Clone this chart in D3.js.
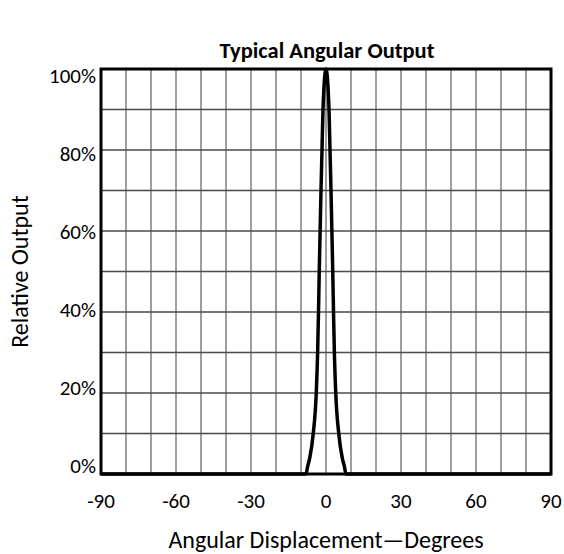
<!DOCTYPE html>
<html>
<head>
	<meta charset="utf-8" />
	<title>Typical Angular Output</title>
	<script src="https://cdn.jsdelivr.net/npm/d3@7"></script>
	<style>
		body { margin: 0; background: #fff; }
		text { font-family: Carlito, Lato, "Open Sans", sans-serif; fill: #000; }
	</style>
</head>
<body>
	<div id="chart"></div>
	<script>
		// (degrees, relative output %)
		var angles  = [-90, -8, -7.3, -6.5, -5.1, -3.9, -3.35, -3.0, -2.7, -2.35, -2.0, -1.6, -1.2, -0.85, 0,
			0.85, 1.2, 1.6, 2.0, 2.35, 2.7, 3.0, 3.35, 3.9, 5.1, 6.5, 7.3, 8, 90];
		var outputs = [0, 0, 2, 4, 10, 20, 30, 40, 50, 60, 70, 80, 90, 95, 100,
			95, 90, 80, 70, 60, 50, 40, 30, 20, 10, 4, 2, 0, 0];
		var xTicks = [-90, -60, -30, 0, 30, 60, 90];
		var yTicks = [0, 20, 40, 60, 80, 100];
		var xGrid = d3.range(-90, 91, 10);
		var yGrid = d3.range(0, 101, 10);

		var W = 564, H = 554;
		var pLeft = 101, pRight = 551, pTop = 69, pBottom = 474;

		var svg = d3.select("#chart").append("svg")
			.attr("width", W).attr("height", H);

		var x = d3.scaleLinear().domain([-90, 90]).range([pLeft, pRight]);
		var y = d3.scaleLinear().domain([0, 100]).range([pBottom, pTop]);
		// tick labels sit slightly inside the frame at the ends
		var yLab = d3.scaleLinear().domain([0, 100]).range([466, 76]);

		// grid
		svg.append("g").selectAll("line").data(xGrid).enter().append("line")
			.attr("x1", function(d) { return x(d); }).attr("x2", function(d) { return x(d); })
			.attr("y1", pTop).attr("y2", pBottom)
			.attr("stroke", "#6a6a6a").attr("stroke-width", 1.3);
		svg.append("g").selectAll("line").data(yGrid).enter().append("line")
			.attr("x1", pLeft).attr("x2", pRight)
			.attr("y1", function(d) { return y(d); }).attr("y2", function(d) { return y(d); })
			.attr("stroke", "#4a4a4a").attr("stroke-width", 1.3);

		// curve
		var pts = angles.map(function(a, i) { return [a, outputs[i]]; });
		var line = d3.line()
			.x(function(d) { return x(d[0]); })
			.y(function(d) { return y(d[1]); })
			.curve(d3.curveMonotoneX);
		svg.append("path").datum(pts)
			.attr("d", line)
			.attr("fill", "none").attr("stroke", "#000")
			.attr("stroke-width", 3.5).attr("stroke-linejoin", "round");

		// frame
		svg.append("rect")
			.attr("x", pLeft).attr("y", pTop)
			.attr("width", pRight - pLeft).attr("height", pBottom - pTop)
			.attr("fill", "none").attr("stroke", "#000").attr("stroke-width", 3);

		// tick labels
		svg.append("g").selectAll("text").data(xTicks).enter().append("text")
			.attr("x", function(d) { return x(d); }).attr("y", 508)
			.attr("text-anchor", "middle").style("font-size", "21px")
			.text(function(d) { return d; });
		svg.append("g").selectAll("text").data(yTicks).enter().append("text")
			.attr("x", 96).attr("y", function(d) { return yLab(d); })
			.attr("dy", "0.35em")
			.attr("text-anchor", "end").style("font-size", "21px")
			.text(function(d) { return d + "%"; });

		// titles
		svg.append("text")
			.attr("x", (pLeft + pRight) / 2 + 1).attr("y", 58)
			.attr("text-anchor", "middle").style("font-size", "22.5px").style("font-weight", "bold")
			.text("Typical Angular Output");
		svg.append("text")
			.attr("x", (pLeft + pRight) / 2).attr("y", 548)
			.attr("text-anchor", "middle").style("font-size", "24px")
			.text("Angular Displacement\u2014Degrees");
		svg.append("text")
			.attr("transform", "translate(28," + (pTop + pBottom) / 2 + ") rotate(-90)")
			.attr("text-anchor", "middle").style("font-size", "24px")
			.text("Relative Output");
	</script>
</body>
</html>
